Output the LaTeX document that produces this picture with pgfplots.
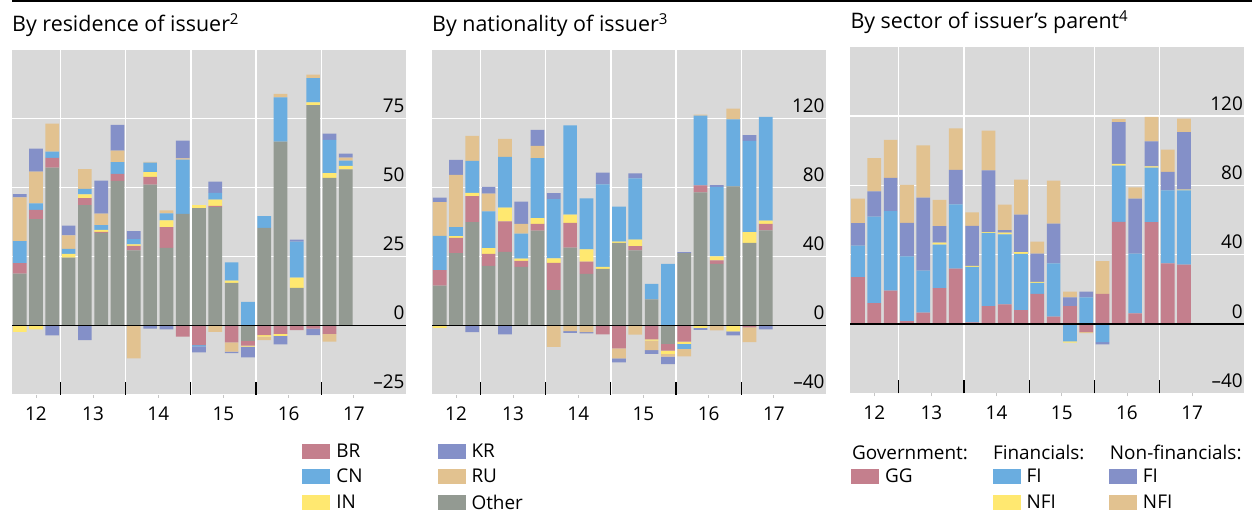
\documentclass[border=0pt]{standalone}
\usepackage{pgfplots}
\pgfplotsset{compat=1.18}
\usepackage{pgfplotstable}
\usepackage{fontspec}
\setmainfont{Open Sans}

\definecolor{bggray}{HTML}{D9D9D9}
\definecolor{cOther}{HTML}{939A92}
\definecolor{cBR}{HTML}{C47F8D}
\definecolor{cCN}{HTML}{6AADE0}
\definecolor{cIN}{HTML}{FFE870}
\definecolor{cKR}{HTML}{8490C8}
\definecolor{cRU}{HTML}{E2C290}

% quarterly, 2012 Q2 to 2017 Q2
\pgfplotstableread{
q Other BR IN CN RU KR
0 18.9 3.8 -2.2 7.9 15.9 1.2
1 38.6 3.4 -1.3 2.3 11.5 8.4
2 57.3 3.5 0 2.3 10.1 -3.5
3 24.7 0 1.3 1.8 4.9 3.6
4 43.7 2.5 1.4 2.0 7.1 -5.2
5 33.6 0.4 0.7 1.7 4.2 12.0
6 52.5 2.5 0 4.3 4.1 9.4
7 27.3 1.6 0.6 1.9 -11.8 2.9
8 51.1 2.8 1.7 3.5 0.3 -1.1
9 28.2 7.5 2.5 2.5 1.1 -1.3
10 40.5 -4.0 0 19.7 0.4 6.5
11 42.6 -7.0 1.1 -0.5 0 -2.2
12 43.0 0.4 2.3 2.4 -2.2 4.1
13 15.5 -6.0 0.8 6.6 -3.4 -0.5
14 -5.5 -1.7 -0.4 8.6 0 -3.9
15 35.4 -3.4 -0.6 4.3 -1.2 0
16 66.7 -3.0 -0.7 16.0 1.3 -3.1
17 13.7 -1.6 3.7 13.1 0 0.7
18 79.9 -1.1 1.0 8.8 1.3 -2.3
19 53.6 -3.0 1.7 12.0 -2.8 2.3
20 56.6 0 1.3 1.9 1.1 1.4
}\residence

\pgfplotstableread{
q Other BR IN CN RU KR
0 23.3 8.9 -1.3 19.8 19.7 2.5
1 42.0 8.9 1.0 5.2 30.4 8.7
2 60.1 15.0 1.9 18.5 14.6 -3.7
3 34.7 6.9 3.3 21.4 10.2 4.0
4 42.8 17.7 7.9 29.5 10.4 -5.0
5 34.1 3.5 1.3 14.5 5.6 12.9
6 55.1 3.9 3.3 34.9 7.1 9.2
7 20.6 15.8 2.7 34.3 -12.3 3.5
8 45.3 14.3 4.8 51.8 -3.1 -1.0
9 30.1 7.1 7.1 29.5 -3.7 -0.8
10 32.9 -5.0 1.2 47.8 0 6.9
11 48.0 -13.1 0.8 20.2 -5.8 -2.3
12 43.7 2.5 3.7 35.5 -5.2 2.9
13 15.2 -7.9 -0.8 9.1 -5.4 -2.3
14 -10.6 -3.9 -1.9 35.8 -1.5 -4.4
15 42.0 -9.2 -1.3 -2.9 -4.4 0.6
16 77.3 4.0 -1.2 40.5 0.6 -1.2
17 35.8 2.1 2.3 40.3 -2.7 1.0
18 80.7 0 -3.3 38.9 6.2 -2.3
19 48.0 -1.0 6.2 53.0 -8.5 3.3
20 55.3 3.7 1.9 60.1 0 -2.1
}\nationality

\pgfplotstableread{
q GG FIf NFIf FIn NFIn
0 27.0 18.2 0 13.0 14.2
1 12.1 49.9 0 14.5 19.3
2 19.3 45.9 0 19.1 22.0
3 1.7 37.3 0 19.3 22.0
4 6.5 24.3 0 42.1 30.2
5 20.7 25.1 1.1 9.6 15.1
6 32.0 37.1 0 19.9 23.9
7 1.0 32.0 0.6 23.0 7.8
8 10.3 42.3 0.4 35.6 23.0
9 11.3 40.4 1.0 1.5 14.7
10 8.0 32.5 1.0 21.6 20.3
11 17.4 6.3 0.6 16.3 6.9
12 4.2 30.8 0 23.0 24.7
13 10.3 -10.1 -0.6 5.0 3.4
14 -4.6 15.3 0 3.4 -0.6
15 17.4 -10.5 0 -1.3 18.9
16 58.9 32.5 1.0 24.1 1.7
17 6.1 34.5 0 31.8 6.5
18 58.8 31.4 0.8 14.4 14.2
19 35.0 42.1 0 10.7 12.8
20 34.3 42.8 0.4 33.3 7.8
}\sector

\pgfplotsset{
  bispanel/.style={
    scale only axis, width=393.7bp, height=345bp,
    anchor=south west, clip mode=individual,
    ybar stacked, stack negative=separate, bar width=0.84,
    xmin=-0.472, xmax=23.68,
    axis background/.style={fill=bggray},
    axis line style={draw=none},
    font=\fontsize{19}{22}\selectfont,
    xtick={1,4.5,8.5,12.5,16.5,20.5},
    xticklabels={12,13,14,15,16,17},
    xtick pos=bottom, tick align=outside,
    major tick length=3bp,
    xtick style={gray!45, line width=0.8bp},
    xticklabel style={anchor=north, inner sep=0pt, yshift=-9bp},
    extra x ticks={2.5,6.5,10.5,14.5,18.5},
    extra x tick labels={},
    extra x tick style={grid=major, tick align=inside, major tick length=13bp,
      xtick style={black, line width=1.2bp}},
    ymajorgrids,
    major grid style={white, line width=1.3bp},
    ytick pos=right, yticklabel pos=right,
    ytick style={draw=none},
    yticklabel style={anchor=south east, inner sep=0pt, xshift=-4bp, yshift=5.5bp},
    title style={at={(0,1)}, anchor=base west, inner sep=0pt, yshift=12bp,
      font=\fontsize{21.5}{24}\selectfont},
    legend cell align=left,
    legend image code/.code={\fill[##1] (0bp,-7.5bp) rectangle (28bp,7.5bp);
      \path (32bp,0bp);},
    every axis plot/.append style={draw=none, forget plot},
  },
}

% ends of the zero line, drawn after the axis so that it lies over the bars
\newcommand{\zeroends}[1]{%
  \coordinate (#1l) at ({rel axis cs:0,0}|-{axis cs:0,0});
  \coordinate (#1r) at ({rel axis cs:1,0}|-{axis cs:0,0});}

\begin{document}
\begin{tikzpicture}
\draw[black, line width=2.2bp] (12bp,513bp) -- (1252bp,513bp);

% panel 1
\begin{axis}[bispanel, at={(12bp,119.3bp)},
  ymin=-25, ymax=100,
  ytick={-25,0,25,50,75}, yticklabels={–25,0,25,50,75},
  title={By residence of issuer\textsuperscript{2}},
  legend columns=2,
  legend style={draw=none, fill=none, at={(0.7294,-0.13)}, anchor=north west,
    font=\fontsize{19}{22}\selectfont, row sep=6.5bp,
    /tikz/every even column/.append style={column sep=73bp}},
]
\addplot[fill=cOther] table[x=q, y=Other] {\residence};
\addplot[fill=cBR] table[x=q, y=BR] {\residence};
\addplot[fill=cIN] table[x=q, y=IN] {\residence};
\addplot[fill=cCN] table[x=q, y=CN] {\residence};
\addplot[fill=cRU] table[x=q, y=RU] {\residence};
\addplot[fill=cKR] table[x=q, y=KR] {\residence};
\zeroends{za}
\addlegendimage{fill=cBR}\addlegendentry{BR}
\addlegendimage{fill=cKR}\addlegendentry{KR}
\addlegendimage{fill=cCN}\addlegendentry{CN}
\addlegendimage{fill=cRU}\addlegendentry{RU}
\addlegendimage{fill=cIN}\addlegendentry{IN}
\addlegendimage{fill=cOther}\addlegendentry{Other}
\end{axis}
\draw[black, line width=1.5bp] (zal) -- (zar);

% panel 2
\begin{axis}[bispanel, at={(432bp,119.3bp)},
  ymin=-40, ymax=160,
  ytick={-40,0,40,80,120}, yticklabels={–40,0,40,80,120},
  title={By nationality of issuer\textsuperscript{3}},
]
\addplot[fill=cOther] table[x=q, y=Other] {\nationality};
\addplot[fill=cBR] table[x=q, y=BR] {\nationality};
\addplot[fill=cIN] table[x=q, y=IN] {\nationality};
\addplot[fill=cCN] table[x=q, y=CN] {\nationality};
\addplot[fill=cRU] table[x=q, y=RU] {\nationality};
\addplot[fill=cKR] table[x=q, y=KR] {\nationality};
\zeroends{zb}
\end{axis}
\draw[black, line width=1.5bp] (zbl) -- (zbr);

% panel 3
\begin{axis}[bispanel, at={(850.3bp,120.7bp)}, height=346.5bp,
  ymin=-40, ymax=160,
  ytick={-40,0,40,80,120}, yticklabels={–40,0,40,80,120},
  title={By sector of issuer’s parent\textsuperscript{4}},
  legend columns=3,
  legend style={draw=none, fill=none, at={(-0.006,-0.207)}, anchor=north west,
    font=\fontsize{19}{22}\selectfont, row sep=6.5bp,
    /tikz/column 2/.style={column sep=78bp},
    /tikz/column 4/.style={column sep=51bp}},
]
\addplot[fill=cBR] table[x=q, y=GG] {\sector};
\addplot[fill=cCN] table[x=q, y=FIf] {\sector};
\addplot[fill=cIN] table[x=q, y=NFIf] {\sector};
\addplot[fill=cKR] table[x=q, y=FIn] {\sector};
\addplot[fill=cRU] table[x=q, y=NFIn] {\sector};
\zeroends{zc}
\node[anchor=base west, inner sep=0pt] at (rel axis cs:0.004,-0.19) {Government:};
\node[anchor=base west, inner sep=0pt] at (rel axis cs:0.362,-0.19) {Financials:};
\node[anchor=base west, inner sep=0pt] at (rel axis cs:0.659,-0.19) {Non-financials:};
\addlegendimage{fill=cBR}\addlegendentry{GG}
\addlegendimage{fill=cCN}\addlegendentry{FI}
\addlegendimage{fill=cKR}\addlegendentry{FI}
\addlegendimage{fill=white}\addlegendentry{}
\addlegendimage{fill=cIN}\addlegendentry{NFI}
\addlegendimage{fill=cRU}\addlegendentry{NFI}
\end{axis}
\draw[black, line width=1.5bp] (zcl) -- (zcr);

\pgfresetboundingbox
\useasboundingbox (0,0) rectangle (1252bp,514bp);
\end{tikzpicture}
\end{document}
